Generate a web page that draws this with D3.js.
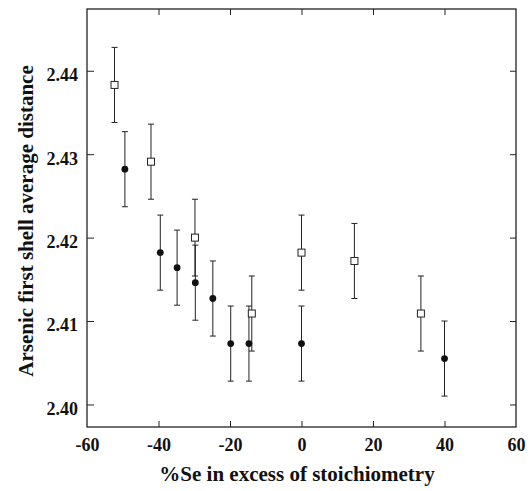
<!DOCTYPE html>
<html><head><meta charset="utf-8">
<script src="https://cdn.jsdelivr.net/npm/d3@7"></script>
<style>body{margin:0;background:#fff}svg{display:block}</style>
</head><body>
<script>
// Open squares
const sqX = [-52.3, -42.1, -29.8, -13.9, 0, 14.8, 33.4];
const sqY = [2.4383, 2.4291, 2.4200, 2.4109, 2.4182, 2.4172, 2.4109];
const sqErr = [0.0045, 0.0045, 0.0046, 0.0045, 0.0045, 0.0045, 0.0045];
// Filled circles
const ciX = [-49.4, -39.5, -34.8, -29.7, -24.8, -19.8, -14.7, 0, 40];
const ciY = [2.4282, 2.4182, 2.4164, 2.4146, 2.4127, 2.4073, 2.4073, 2.4073, 2.4055];
const ciErr = [0.0045, 0.0045, 0.0045, 0.0045, 0.0045, 0.0045, 0.0045, 0.0045, 0.0045];
const xTicks = [-60, -40, -20, 0, 20, 40, 60];
const yTicks = [2.40, 2.41, 2.42, 2.43, 2.44];
const xLabel = "%Se in excess of stoichiometry";
const yLabel = "Arsenic first shell average distance";

const W = 531, H = 491;
const L = 87, R = 516, T = 9, B = 427;
const svg = d3.select("body").append("svg").attr("width", W).attr("height", H);
const x = d3.scaleLinear().domain([-60, 60]).range([L, R]);
const y = d3.scaleLinear().domain([2.3973, 2.4474]).range([B, T]);
const font = "'Liberation Serif','Times New Roman',serif";

// frame
svg.append("rect").attr("x", L).attr("y", T).attr("width", R - L).attr("height", B - T)
  .attr("fill", "none").attr("stroke", "#222").attr("stroke-width", 1.3);

const inner = xTicks.filter(d => d > -60 && d < 60);
// bottom axis
const gB = svg.append("g").attr("transform", `translate(0,${B})`)
  .call(d3.axisBottom(x).tickValues(xTicks).tickSize(0).tickPadding(11).tickFormat(d => String(d)));
gB.select(".domain").remove();
gB.selectAll("text").attr("font-family", font).attr("font-weight", "bold").attr("font-size", 18).attr("fill", "#111");
svg.append("g").attr("transform", `translate(0,${B})`)
  .call(d3.axisTop(x).tickValues(inner).tickSize(6).tickFormat(""))
  .call(g => g.select(".domain").remove()).selectAll("line").attr("stroke", "#222");
svg.append("g").attr("transform", `translate(0,${T})`)
  .call(d3.axisBottom(x).tickValues(inner).tickSize(6).tickFormat(""))
  .call(g => g.select(".domain").remove()).selectAll("line").attr("stroke", "#222");

// left axis
const gL = svg.append("g").attr("transform", `translate(${L},0)`)
  .call(d3.axisLeft(y).tickValues(yTicks).tickSize(0).tickPadding(9).tickFormat(d3.format(".2f")));
gL.select(".domain").remove();
gL.selectAll("text").attr("font-family", font).attr("font-weight", "bold").attr("font-size", 18)
  .attr("fill", "#111").attr("dy", "0.55em");
svg.append("g").attr("transform", `translate(${L},0)`)
  .call(d3.axisRight(y).tickValues(yTicks).tickSize(7).tickFormat(""))
  .call(g => g.select(".domain").remove()).selectAll("line").attr("stroke", "#222");
svg.append("g").attr("transform", `translate(${R},0)`)
  .call(d3.axisLeft(y).tickValues(yTicks).tickSize(6).tickFormat(""))
  .call(g => g.select(".domain").remove()).selectAll("line").attr("stroke", "#222");

// error bars
function errBars(xs, ys, es) {
  const g = svg.append("g").attr("stroke", "#222").attr("stroke-width", 1);
  xs.forEach((xv, i) => {
    const cx = x(xv), y1 = y(ys[i] + es[i]), y2 = y(ys[i] - es[i]);
    g.append("line").attr("x1", cx).attr("x2", cx).attr("y1", y1).attr("y2", y2);
    g.append("line").attr("x1", cx - 3).attr("x2", cx + 3).attr("y1", y1).attr("y2", y1);
    g.append("line").attr("x1", cx - 3).attr("x2", cx + 3).attr("y1", y2).attr("y2", y2);
  });
}
errBars(sqX, sqY, sqErr);
errBars(ciX, ciY, ciErr);

svg.append("g").selectAll("rect").data(sqX).join("rect")
  .attr("x", (d) => x(d) - 3.5).attr("y", (d, i) => y(sqY[i]) - 3.5)
  .attr("width", 7).attr("height", 7).attr("fill", "#fff").attr("stroke", "#222").attr("stroke-width", 1);
svg.append("g").selectAll("circle").data(ciX).join("circle")
  .attr("cx", d => x(d)).attr("cy", (d, i) => y(ciY[i])).attr("r", 3.4).attr("fill", "#111");

// titles
svg.append("text").attr("x", 297).attr("y", 481).attr("text-anchor", "middle")
  .attr("font-family", font).attr("font-weight", "bold").attr("font-size", 21).attr("fill", "#111").text(xLabel);
svg.append("text").attr("transform", `translate(33,221) rotate(-90)`).attr("text-anchor", "middle")
  .attr("font-family", font).attr("font-weight", "bold").attr("font-size", 21).attr("fill", "#111").text(yLabel);
</script>
</body></html>
